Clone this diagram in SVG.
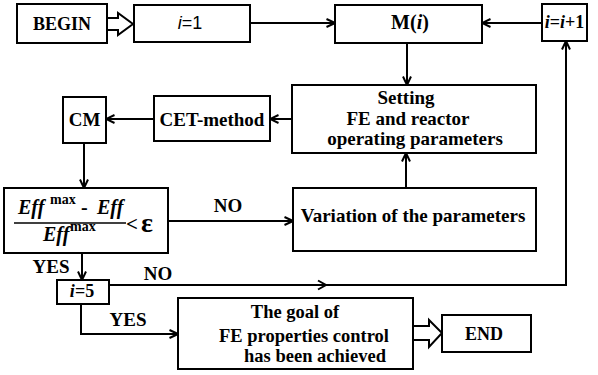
<svg xmlns="http://www.w3.org/2000/svg" width="598" height="375" viewBox="0 0 598 375">
<defs>
<marker id="ah" viewBox="0 0 10 10" refX="9.5" refY="5" markerWidth="10" markerHeight="10" markerUnits="userSpaceOnUse" orient="auto">
<path d="M1,1 L9.5,5 L1,9" fill="none" stroke="#000" stroke-width="2"/>
</marker>
<style>
.box{fill:#fff;stroke:#000;stroke-width:2}
.t{font-family:'Liberation Serif','Times New Roman',serif;font-weight:bold;fill:#000;text-anchor:middle}
.c{fill:none;stroke:#000;stroke-width:2}
.hollow{fill:#fff;stroke:#000;stroke-width:2;stroke-linejoin:miter}
</style>
</defs>
<rect width="598" height="375" fill="#fff"/>
<g id="connectors">
<polygon class="hollow" points="107,18 118,18 118,13 133,24 118,35 118,30 107,30"/>
<path class="c" d="M250,23 L335,23" marker-end="url(#ah)"/>
<path class="c" d="M542,23 L482,23" marker-end="url(#ah)"/>
<path class="c" d="M407,43 L407,85" marker-end="url(#ah)"/>
<path class="c" d="M292,119 L270,119" marker-end="url(#ah)"/>
<path class="c" d="M154,119 L106,119" marker-end="url(#ah)"/>
<path class="c" d="M84,143 L84,188" marker-end="url(#ah)"/>
<path class="c" d="M168,221 L293,221" marker-end="url(#ah)"/>
<path class="c" d="M406,188 L406,153" marker-end="url(#ah)"/>
<path class="c" d="M82,253 L82,280" marker-end="url(#ah)"/>
<path class="c" d="M109,285 L566,285 L566,41" marker-end="url(#ah)"/>
<path class="c" d="M318,280.5 L326,285 L318,289.5"/>
<path class="c" d="M81,304 L81,334 L178,334" marker-end="url(#ah)"/>
<polygon class="hollow" points="413,326 429,326 429,320 442,333 429,347 429,340 413,340"/>
<text class="t" x="228" y="212" font-size="19">NO</text>
<text class="t" x="51" y="273" font-size="19">YES</text>
<text class="t" x="158" y="280" font-size="19">NO</text>
<text class="t" x="128" y="326" font-size="19">YES</text>
</g>
<g id="begin">
<rect class="box" x="17" y="4" width="90" height="39"/>
<text class="t" x="62" y="30" font-size="18">BEGIN</text>
</g>
<g id="i1">
<rect class="box" x="134" y="5" width="116" height="37"/>
<text x="190" y="29" font-size="18" font-family="'Liberation Sans', Arial, sans-serif" text-anchor="middle"><tspan font-style="italic">i</tspan>=1</text>
</g>
<g id="mi">
<rect class="box" x="335" y="5" width="147" height="38"/>
<text class="t" x="410" y="29" font-size="20">M(<tspan font-style="italic">i</tspan>)</text>
</g>
<g id="inc">
<rect class="box" x="542" y="4" width="45" height="37"/>
<text class="t" x="564.5" y="28" font-size="18"><tspan font-style="italic">i</tspan>=<tspan font-style="italic">i</tspan>+1</text>
</g>
<g id="setting">
<rect class="box" x="292" y="85" width="244" height="68"/>
<text class="t" x="406" y="104" font-size="19">Setting</text>
<text class="t" x="408" y="125" font-size="19">FE and reactor</text>
<text class="t" x="415" y="145" font-size="19">operating parameters</text>
</g>
<g id="cet">
<rect class="box" x="154" y="96" width="116" height="45"/>
<text class="t" x="212" y="126" font-size="19">CET-method</text>
</g>
<g id="cm">
<rect class="box" x="63" y="97" width="43" height="46"/>
<text class="t" x="84.5" y="126" font-size="19">CM</text>
</g>
<g id="condition">
<rect class="box" x="4" y="188" width="164" height="65"/>
<g font-family="'Liberation Serif', 'Times New Roman', serif" font-weight="bold" fill="#000">
<text x="18" y="214" font-size="20" font-style="italic">Eff</text>
<text x="50" y="204" font-size="14">max</text>
<text x="81" y="214" font-size="20">-</text>
<text x="97" y="214" font-size="20" font-style="italic">Eff</text>
<text x="43" y="241" font-size="20" font-style="italic">Eff</text>
<text x="70" y="231" font-size="14">max</text>
<text x="126" y="231" font-size="21">&lt;</text>
<text x="141" y="232" font-size="28">ε</text>
</g>
<path d="M14,223 L126,223" stroke="#000" stroke-width="1.5"/>
</g>
<g id="variation">
<rect class="box" x="293" y="188" width="243" height="63"/>
<text class="t" x="413" y="222" font-size="19">Variation of the parameters</text>
</g>
<g id="i5">
<rect class="box" x="57" y="280" width="52" height="24"/>
<text class="t" x="82" y="297" font-size="18"><tspan font-style="italic">i</tspan>=5</text>
</g>
<g id="goal">
<rect class="box" x="178" y="298" width="235" height="71"/>
<text class="t" x="295" y="318" font-size="18.5">The goal of</text>
<text class="t" x="304" y="342" font-size="18.5">FE properties control</text>
<text class="t" x="315" y="362" font-size="18.5">has been achieved</text>
</g>
<g id="end">
<rect class="box" x="442" y="315" width="89" height="37"/>
<text class="t" x="484" y="340" font-size="18">END</text>
</g>
</svg>
